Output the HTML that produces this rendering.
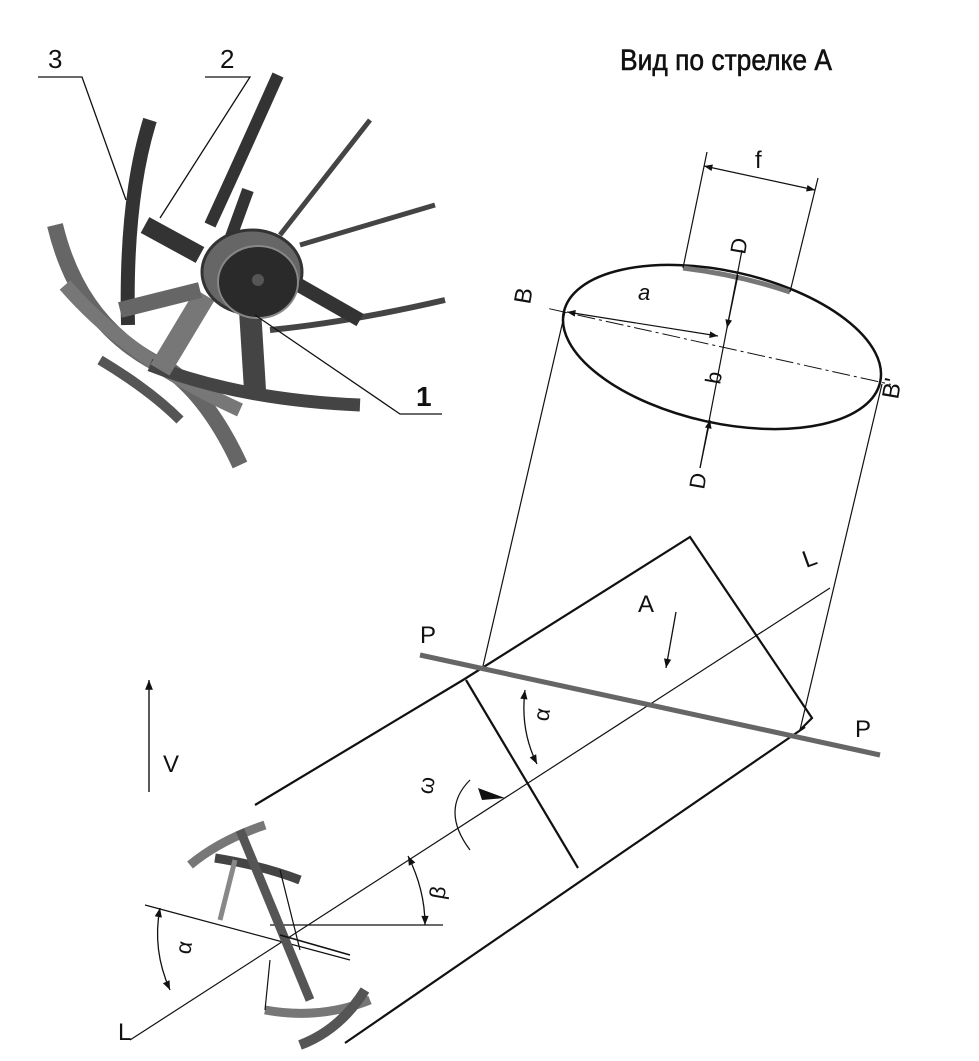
<!DOCTYPE html>
<html><head><meta charset="utf-8"><style>
body{margin:0;background:#fff;}
svg{display:block;font-family:"Liberation Sans",sans-serif;}
</style></head><body>
<svg width="979" height="1061" viewBox="0 0 979 1061" xmlns="http://www.w3.org/2000/svg">
<defs>
<marker id="ar" viewBox="0 0 10 10" refX="10" refY="5" markerWidth="9" markerHeight="7" orient="auto-start-reverse"><path d="M0,1 L10,5 L0,9 Z" fill="#111"/></marker>
</defs>
<!-- Title -->
<text x="620" y="70" font-size="30" fill="#111" stroke="#111" stroke-width="0.6" transform="translate(620 0) scale(0.88 1) translate(-620 0)">Вид по стрелке А</text>

<!-- wheel (top-left) -->
<g stroke-linecap="butt" fill="none">
<path d="M55,225 Q80,330 170,370 Q210,400 240,465" stroke="#666" stroke-width="16"/>
<path d="M65,285 Q130,360 240,410" stroke="#777" stroke-width="14"/>
<path d="M100,360 Q150,390 180,420" stroke="#555" stroke-width="10"/>
<path d="M150,365 Q240,400 360,405" stroke="#444" stroke-width="13"/>
<path d="M150,120 Q125,200 128,325" stroke="#333" stroke-width="14"/>
<path d="M278,75 Q240,160 210,225" stroke="#333" stroke-width="12"/>
<path d="M270,330 Q350,322 445,300" stroke="#444" stroke-width="6"/>
<path d="M200,255 L145,225" stroke="#333" stroke-width="18"/>
<path d="M228,245 L248,190" stroke="#333" stroke-width="12"/>
<path d="M280,235 L370,120" stroke="#444" stroke-width="5"/>
<path d="M300,245 L435,205" stroke="#444" stroke-width="5"/>
<path d="M290,280 L360,320" stroke="#333" stroke-width="14"/>
<path d="M250,310 L255,390" stroke="#444" stroke-width="22"/>
<path d="M205,295 L160,370" stroke="#777" stroke-width="22"/>
<path d="M200,290 L120,310" stroke="#666" stroke-width="16"/>
</g>
<ellipse cx="252" cy="272" rx="50" ry="42" fill="#666" stroke="#333" stroke-width="3"/>
<ellipse cx="258" cy="282" rx="40" ry="36" fill="#2a2a2a" stroke="#888" stroke-width="2"/>
<circle cx="258" cy="280" r="6" fill="#555"/>
<!-- leaders -->
<g stroke="#111" stroke-width="1.3" fill="none">
<polyline points="38,77 82,77 126,200"/>
<polyline points="205,77 250,77 160,218"/>
<polyline points="255,315 400,414 442,414"/>
</g>
<text x="48" y="68" font-size="26" fill="#111">3</text>
<text x="220" y="68" font-size="26" fill="#111">2</text>
<text x="416" y="406" font-size="28" font-weight="bold" fill="#111">1</text>

<!-- Ellipse view -->
<g transform="rotate(12.5 722 347)">
<ellipse cx="722" cy="347" rx="162" ry="76" fill="none" stroke="#111" stroke-width="2.5"/>
<line x1="545" y1="347" x2="895" y2="347" stroke="#111" stroke-width="1" stroke-dasharray="18 4 3 4"/>
</g>
<path d="M683,268 Q740,275 790,292" stroke="#777" stroke-width="5" fill="none"/>
<!-- f dimension -->
<g stroke="#111" stroke-width="1.2">
<line x1="683" y1="268" x2="707" y2="152"/>
<line x1="790" y1="292" x2="818" y2="178"/>
<line x1="704" y1="166" x2="815" y2="190" marker-start="url(#ar)" marker-end="url(#ar)"/>
</g>
<text x="755" y="168" font-size="24" fill="#111">f</text>
<!-- b axis -->
<g stroke="#111" stroke-width="1.2">
<line x1="742" y1="250" x2="700" y2="468"/>
<line x1="738" y1="275" x2="727" y2="328" marker-end="url(#ar)"/>
<line x1="700" y1="468" x2="710" y2="420" marker-end="url(#ar)"/>
<line x1="567" y1="312" x2="718" y2="336" marker-start="url(#ar)" marker-end="url(#ar)"/>
</g>
<text x="638" y="300" font-size="22" font-style="italic" fill="#111">a</text>
<text x="0" y="0" font-size="22" fill="#111" transform="translate(720 385) rotate(-80)">b</text>
<text x="0" y="0" font-size="22" fill="#111" transform="translate(745 255) rotate(-80)">D</text>
<text x="0" y="0" font-size="22" fill="#111" transform="translate(704 490) rotate(-80)">D</text>
<text x="0" y="0" font-size="24" fill="#111" transform="translate(530 305) rotate(-80)">B</text>
<text x="0" y="0" font-size="24" fill="#111" transform="translate(898 400) rotate(-80)">B'</text>

<!-- projection lines -->
<g stroke="#111" stroke-width="1.2" fill="none">
<line x1="565" y1="312" x2="483" y2="666"/>
<line x1="882" y1="384" x2="800" y2="730"/>
</g>
<!-- box -->
<g stroke="#111" stroke-width="2.2" fill="none">
<polyline points="255,805 463,680 690,537 812,718 800,730"/>
<line x1="466" y1="680" x2="578" y2="868"/>
<line x1="805" y1="727" x2="345" y2="1043"/>
</g>
<!-- L axis -->
<line x1="130" y1="1040" x2="830" y2="588" stroke="#111" stroke-width="1.2"/>
<text x="118" y="1040" font-size="24" fill="#111">L</text>
<text x="0" y="0" font-size="24" fill="#111" transform="translate(806 568) rotate(-20)">L</text>
<!-- P line -->
<line x1="420" y1="655" x2="880" y2="755" stroke="#666" stroke-width="5"/>
<text x="420" y="643" font-size="24" fill="#111">P</text>
<text x="855" y="737" font-size="24" fill="#111">P</text>
<!-- A arrow -->
<line x1="676" y1="612" x2="666" y2="668" stroke="#111" stroke-width="1.3" marker-end="url(#ar)"/>
<text x="638" y="612" font-size="24" fill="#111">A</text>
<!-- alpha in box -->
<path d="M525,690 Q520,730 537,764" stroke="#111" stroke-width="1.3" fill="none" marker-start="url(#ar)" marker-end="url(#ar)"/>
<text x="0" y="0" font-size="22" fill="#111" transform="translate(548 722) rotate(-80)">α</text>
<!-- omega -->
<path d="M470,780 Q440,810 470,850" stroke="#111" stroke-width="1.2" fill="none"/>
<path d="M478,788 L505,798 L482,800 Z" fill="#111"/>
<text x="0" y="0" font-size="22" fill="#111" transform="translate(432 795) rotate(-80)">ω</text>
<!-- V -->
<line x1="149" y1="792" x2="149" y2="680" stroke="#111" stroke-width="1.4" marker-end="url(#ar)"/>
<text x="163" y="772" font-size="24" fill="#111">V</text>
<!-- beta -->
<line x1="270" y1="925" x2="443" y2="925" stroke="#111" stroke-width="1.3"/>
<path d="M408,856 Q425,890 425,925" stroke="#111" stroke-width="1.3" fill="none" marker-start="url(#ar)" marker-end="url(#ar)"/>
<text x="0" y="0" font-size="22" fill="#111" transform="translate(444 900) rotate(-80)">β</text>
<!-- left alpha -->
<line x1="145" y1="905" x2="350" y2="960" stroke="#111" stroke-width="1.2"/>
<path d="M160,908 Q152,950 170,990" stroke="#111" stroke-width="1.3" fill="none" marker-start="url(#ar)" marker-end="url(#ar)"/>
<text x="0" y="0" font-size="22" fill="#111" transform="translate(190 955) rotate(-80)">α</text>
<!-- small wheel -->
<g fill="none" stroke-linecap="butt">
<path d="M190,865 Q220,840 265,825" stroke="#777" stroke-width="9"/>
<path d="M215,858 Q260,865 300,880" stroke="#444" stroke-width="9"/>
<path d="M240,830 L310,1000" stroke="#555" stroke-width="9"/>
<path d="M220,920 L235,860" stroke="#888" stroke-width="5"/>
<path d="M265,1010 Q320,1020 370,1000" stroke="#777" stroke-width="9"/>
<path d="M300,1045 Q340,1030 365,990" stroke="#555" stroke-width="10"/>
<path d="M265,1010 L270,960" stroke="#111" stroke-width="1.2"/>
<path d="M300,950 L280,870" stroke="#111" stroke-width="1.2"/>
<path d="M280,935 L350,955" stroke="#111" stroke-width="1.5"/>
</g>
</svg>
</body></html>
